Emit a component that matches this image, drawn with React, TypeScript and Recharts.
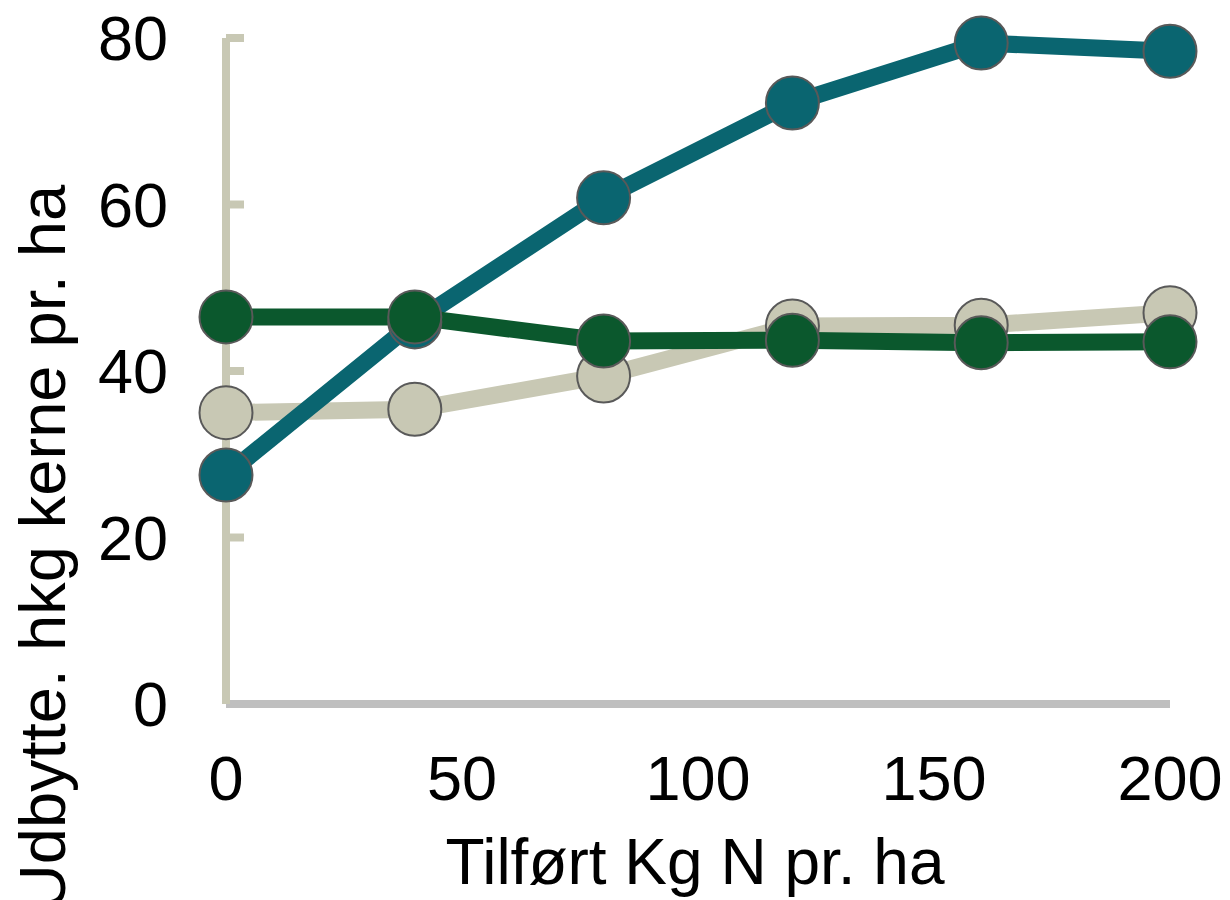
import { LineChart, Line, XAxis, YAxis } from "recharts"

const nLevels = [0, 40, 80, 120, 160, 200]
const tealYield = [27.5, 45.9, 60.8, 72.2, 79.4, 78.4]
const beigeYield = [35.0, 35.4, 39.4, 45.4, 45.5, 47.0]
const greenYield = [46.5, 46.5, 43.6, 43.7, 43.4, 43.5]

const xTicks = [0, 50, 100, 150, 200]
const yTicks = [0, 20, 40, 60, 80]

const data = nLevels.map((n, i) => ({
  n,
  teal: tealYield[i],
  beige: beigeYield[i],
  green: greenYield[i],
}))

const FONT = "'Liberation Sans', Arial, sans-serif"
const AXIS_BEIGE = "#C8C8B4"

function YTick(props: any) {
  const { x, y, payload } = props
  return (
    <g>
      {payload.value !== 0 && (
        <line x1={x} x2={x + 18} y1={y} y2={y} stroke={AXIS_BEIGE} strokeWidth={8} />
      )}
      <text x={x - 58} y={y + 22} textAnchor="end" fontFamily={FONT} fontSize={63} fill="#000">
        {payload.value}
      </text>
    </g>
  )
}

function XTick(props: any) {
  const { x, y, payload } = props
  return (
    <text x={x} y={y + 96} textAnchor="middle" fontFamily={FONT} fontSize={63} fill="#000">
      {payload.value}
    </text>
  )
}

function dot(fill: string) {
  return { r: 26.5, fill, stroke: "#595959", strokeWidth: 2 }
}

export default function App() {
  return (
    <div style={{ position: "absolute", left: 0, top: 0, width: 1230, height: 900, background: "#fff" }}>
      <LineChart width={1230} height={900} data={data} margin={{ top: 38, right: 60, left: 0, bottom: 0 }}>
        <XAxis
          dataKey="n"
          type="number"
          domain={[0, 200]}
          ticks={xTicks}
          height={196}
          tickSize={0}
          tickMargin={0}
          tickLine={false}
          axisLine={{ stroke: "#BFBFBF", strokeWidth: 8 }}
          tick={<XTick />}
        />
        <YAxis
          type="number"
          domain={[0, 80]}
          ticks={yTicks}
          width={226}
          tickSize={0}
          tickMargin={0}
          tickLine={false}
          axisLine={{ stroke: AXIS_BEIGE, strokeWidth: 8 }}
          tick={<YTick />}
        />
        <Line type="linear" dataKey="beige" stroke="#C8C8B4" strokeWidth={17} dot={dot("#C8C8B4")} isAnimationActive={false} />
        <Line type="linear" dataKey="teal" stroke="#0A6570" strokeWidth={17} dot={dot("#0A6570")} isAnimationActive={false} />
        <Line type="linear" dataKey="green" stroke="#0B582D" strokeWidth={17} dot={dot("#0B582D")} isAnimationActive={false} />
        <text
          x={65}
          y={548}
          transform="rotate(-90, 65, 548)"
          textAnchor="middle"
          fontFamily={FONT}
          fontSize={65}
          fill="#000"
        >
          Udbytte. hkg kerne pr. ha
        </text>
        <text x={695} y={884} textAnchor="middle" fontFamily={FONT} fontSize={64} fill="#000">
          Tilført Kg N pr. ha
        </text>
      </LineChart>
    </div>
  )
}
